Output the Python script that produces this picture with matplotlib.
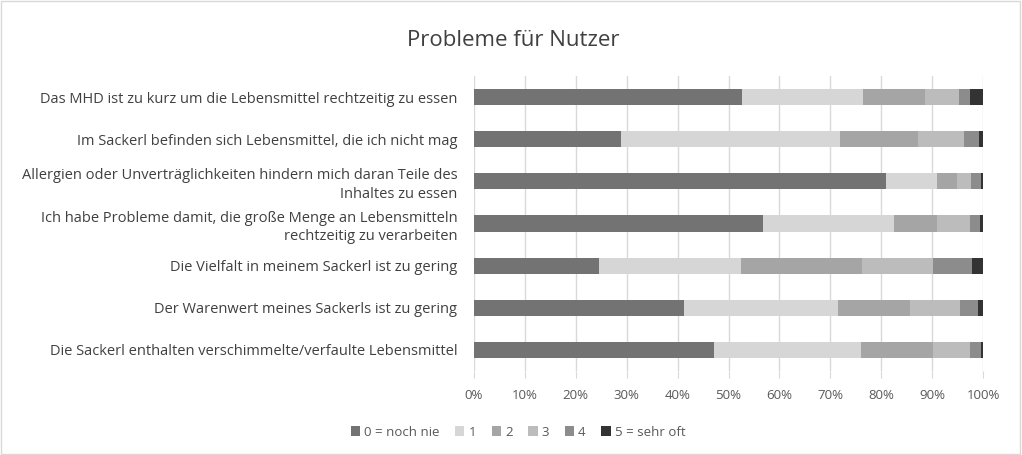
import matplotlib.pyplot as plt
import numpy as np
from matplotlib.patches import Rectangle

plt.rcParams['font.family'] = ['Open Sans', 'DejaVu Sans']

# Kategorien von oben nach unten
categories = [
    "Das MHD ist zu kurz um die Lebensmittel rechtzeitig zu essen",
    "Im Sackerl befinden sich Lebensmittel, die ich nicht mag",
    "Allergien oder Unverträglichkeiten hindern mich daran Teile des\nInhaltes zu essen",
    "Ich habe Probleme damit, die große Menge an Lebensmitteln\nrechtzeitig zu verarbeiten",
    "Die Vielfalt in meinem Sackerl ist zu gering",
    "Der Warenwert meines Sackerls ist zu gering",
    "Die Sackerl enthalten verschimmelte/verfaulte Lebensmittel",
]
series_labels = ["0 = noch nie", "1", "2", "3", "4", "5 = sehr oft"]

# Anteile in Prozent je Antwort
s0 = [52.7, 28.9, 81.0, 56.7, 24.6, 41.3, 47.2]
s1 = [23.8, 43.1, 10.0, 25.8, 27.9, 30.3, 28.8]
s2 = [12.2, 15.3, 3.9, 8.5, 23.8, 14.1, 14.1]
s3 = [6.6, 9.0, 2.7, 6.5, 13.9, 9.7, 7.3]
s4 = [2.1, 2.9, 2.1, 2.0, 7.7, 3.6, 2.3]
s5 = [2.6, 0.8, 0.3, 0.5, 2.1, 1.0, 0.3]

colors = ["#737373", "#d6d6d6", "#a5a5a5", "#bcbcbc", "#8c8c8c", "#333333"]

fig = plt.figure(figsize=(10.22, 4.55), dpi=100)
ax = fig.add_axes([474 / 1022, 1 - 371 / 455, 509 / 1022, 295 / 455])

y = np.arange(len(categories))[::-1]
left = np.zeros(len(categories))
for vals, col, lab in zip([s0, s1, s2, s3, s4, s5], colors, series_labels):
    vals = np.array(vals)
    ax.barh(y, vals, left=left, height=0.38, color=col, label=lab, zorder=3)
    left += vals

ax.set_xlim(0, 100)
ax.set_ylim(-0.5, len(categories) - 0.5)
ax.set_xticks(np.arange(0, 101, 10))
ax.set_xticklabels([f"{v}%" for v in range(0, 101, 10)])
ax.set_yticks(y)
ax.set_yticklabels(categories, ha="right", linespacing=1.3)
ax.grid(axis="x", color="#d9d9d9", linewidth=1, zorder=0)
for s in ["top", "right", "bottom", "left"]:
    ax.spines[s].set_visible(False)
ax.tick_params(axis="y", length=0, pad=12, labelsize=10.5, colors="#404040")
ax.tick_params(axis="x", length=5, color="#d9d9d9", pad=8, labelsize=9.5,
               labelcolor="#595959")

fig.text(513 / 1022, 1 - 40 / 455, "Probleme für Nutzer", ha="center", va="center",
         fontsize=16, color="#404040")

fig.legend(loc="center", bbox_to_anchor=(518 / 1022, 1 - 432 / 455), ncol=6,
           frameon=False, fontsize=9.5, handlelength=0.7, handleheight=0.7,
           handletextpad=0.3, columnspacing=1.2, labelcolor="#595959")

fig.patches.append(Rectangle((0.001, 0.002), 0.997, 0.995, transform=fig.transFigure,
                             fill=False, edgecolor="#d9d9d9", linewidth=1))

fig.savefig("out.png", dpi=100)
